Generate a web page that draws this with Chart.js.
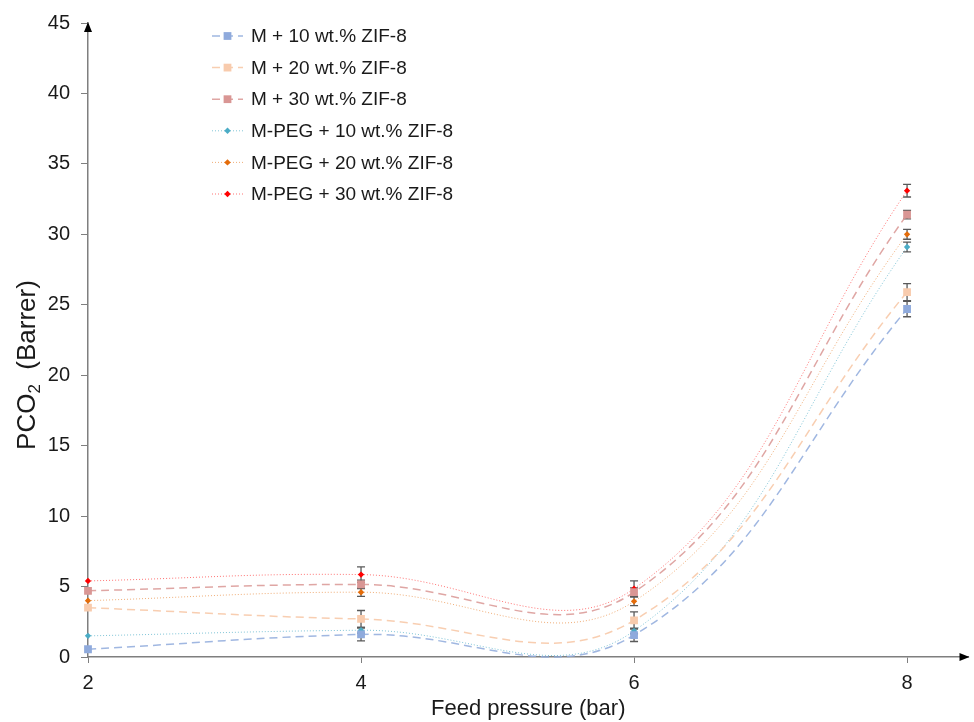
<!DOCTYPE html>
<html>
<head>
<meta charset="utf-8">
<script src="https://cdn.jsdelivr.net/npm/chart.js@4.4.1/dist/chart.umd.min.js"></script>
<style>
  html, body { margin: 0; padding: 0; background: #fff; }
  canvas { display: block; }
</style>
</head>
<body>
<canvas id="chart" width="974" height="722"></canvas>
<script>
// feed pressure (bar)
const pressures = [2, 4, 6, 8];
const xTicks = [2, 4, 6, 8];
const yTicks = [0, 5, 10, 15, 20, 25, 30, 35, 40, 45];

const seriesNames = [
  "M + 10 wt.% ZIF-8",
  "M + 20 wt.% ZIF-8",
  "M + 30 wt.% ZIF-8",
  "M-PEG + 10 wt.% ZIF-8",
  "M-PEG + 20 wt.% ZIF-8",
  "M-PEG + 30 wt.% ZIF-8"
];

// PCO2 (Barrer)
const m10   = [0.55, 1.6, 1.55, 24.7];
const m20   = [3.5, 2.7, 2.6, 25.9];
const m30   = [4.7, 5.15, 4.6, 31.4];
const peg10 = [1.5, 1.9, 1.85, 29.1];
const peg20 = [4.0, 4.6, 3.95, 30.0];
const peg30 = [5.4, 5.85, 4.85, 33.1];

// error bar half-lengths
const m10Err   = [0, 0.45, 0.45, 0.55];
const m20Err   = [0, 0.6, 0.6, 0.6];
const m30Err   = [0, 0.3, 0.3, 0.3];
const peg10Err = [0, 0.2, 0.2, 0.35];
const peg20Err = [0, 0.3, 0.3, 0.35];
const peg30Err = [0, 0.55, 0.55, 0.45];

const values = [m10, m20, m30, peg10, peg20, peg30];
const errors = [m10Err, m20Err, m30Err, peg10Err, peg20Err, peg30Err];
const markerColors = ["#8faadc", "#f8cbad", "#d99694", "#4bacc6", "#e46c0a", "#ff0000"];
const lineColors = ["rgba(143,170,220,0.85)", "rgba(248,203,173,0.95)", "rgba(217,150,148,0.85)",
                    "rgba(75,172,198,0.7)", "rgba(228,108,10,0.55)", "rgba(255,0,0,0.55)"];

const FONT = "'Liberation Sans', Arial, sans-serif";
const AXIS = "#7f7f7f";
const TEXT = "#1a1a1a";

const datasets = seriesNames.map((name, i) => {
  const isM = i < 3;
  return {
    label: name,
    data: pressures.map((p, k) => ({ x: p, y: values[i][k] })),
    borderColor: lineColors[i],
    backgroundColor: markerColors[i],
    borderWidth: isM ? 1.5 : 1,
    borderDash: isM ? [8, 5] : [1, 2],
    pointStyle: isM ? "rect" : "rectRot",
    pointRadius: isM ? 5.5 : 3.2,
    pointBorderWidth: 0,
    pointBackgroundColor: markerColors[i],
    pointBorderColor: markerColors[i],
    tension: 0.4,
    fill: false,
    clip: { left: 10, right: 10, top: 10, bottom: 1 }
  };
});

const errorBars = {
  id: "errorBars",
  beforeDatasetsDraw(chart) {
    const { ctx, scales: { x, y } } = chart;
    ctx.save();
    ctx.strokeStyle = "#595959";
    ctx.lineWidth = 1.3;
    values.forEach((vals, i) => {
      vals.forEach((v, k) => {
        const e = errors[i][k];
        if (!e) return;
        const px = x.getPixelForValue(pressures[k]);
        const top = y.getPixelForValue(v + e);
        const bot = y.getPixelForValue(v - e);
        ctx.beginPath();
        ctx.moveTo(px, top); ctx.lineTo(px, bot);
        ctx.moveTo(px - 4, top); ctx.lineTo(px + 4, top);
        ctx.moveTo(px - 4, bot); ctx.lineTo(px + 4, bot);
        ctx.stroke();
      });
    });
    ctx.restore();
  }
};

function drawMarker(ctx, style, r, x, y) {
  ctx.beginPath();
  if (style === "rect") {
    const s = r / Math.SQRT2;
    ctx.rect(x - s, y - s, 2 * s, 2 * s);
  } else {
    ctx.moveTo(x, y - r); ctx.lineTo(x + r, y); ctx.lineTo(x, y + r); ctx.lineTo(x - r, y);
    ctx.closePath();
  }
  ctx.fill();
}

const extras = {
  id: "extras",
  afterDraw(chart) {
    const { ctx, chartArea: a } = chart;
    ctx.save();
    // axis arrows
    ctx.fillStyle = "#000";
    ctx.beginPath();
    ctx.moveTo(a.left, a.top - 1); ctx.lineTo(a.left - 4, a.top + 9); ctx.lineTo(a.left + 4, a.top + 9);
    ctx.closePath(); ctx.fill();
    ctx.beginPath();
    ctx.moveTo(a.right + 1, a.bottom); ctx.lineTo(a.right - 9, a.bottom - 4); ctx.lineTo(a.right - 9, a.bottom + 4);
    ctx.closePath(); ctx.fill();

    // legend
    ctx.font = "19px " + FONT;
    ctx.textBaseline = "middle";
    chart.data.datasets.forEach((ds, i) => {
      const yy = 36 + i * 31.6;
      ctx.strokeStyle = ds.borderColor;
      ctx.lineWidth = ds.borderWidth;
      ctx.setLineDash(ds.borderDash);
      ctx.beginPath();
      ctx.moveTo(212, yy); ctx.lineTo(243, yy);
      ctx.stroke();
      ctx.setLineDash([]);
      ctx.fillStyle = ds.backgroundColor;
      drawMarker(ctx, ds.pointStyle, ds.pointRadius, 227.5, yy);
      ctx.fillStyle = TEXT;
      ctx.fillText(ds.label, 251, yy + 1);
    });

    // y title with subscript
    ctx.translate(35, 365);
    ctx.rotate(-Math.PI / 2);
    ctx.fillStyle = TEXT;
    ctx.textBaseline = "alphabetic";
    ctx.textAlign = "left";
    const big = "26px " + FONT, small = "17px " + FONT;
    ctx.font = big;
    const w1 = ctx.measureText("PCO").width;
    ctx.font = small;
    const w2 = ctx.measureText("2").width;
    ctx.font = big;
    const w3 = ctx.measureText("  (Barrer)").width;
    const sx = -(w1 + w2 + w3) / 2;
    ctx.fillText("PCO", sx, 0);
    ctx.font = small;
    ctx.fillText("2", sx + w1, 5);
    ctx.font = big;
    ctx.fillText("  (Barrer)", sx + w1 + w2, 0);
    ctx.restore();
  }
};

new Chart(document.getElementById("chart"), {
  type: "line",
  data: { datasets },
  options: {
    responsive: false,
    animation: false,
    layout: { padding: { left: 0, right: 2, top: 21, bottom: 0 } },
    elements: { line: { capBezierPoints: false } },
    plugins: { legend: { display: false }, tooltip: { enabled: false } },
    scales: {
      x: {
        type: "linear",
        min: 2,
        max: 8.45,
        afterBuildTicks: s => { s.ticks = xTicks.map(v => ({ value: v })); },
        afterFit: s => { s.height = 65; },
        border: { color: AXIS, width: 1.5 },
        grid: { drawOnChartArea: false, drawTicks: true, tickLength: 6, color: AXIS },
        ticks: { color: TEXT, font: { family: FONT, size: 20 }, padding: 8, maxRotation: 0 },
        title: { display: true, text: "Feed pressure (bar)", color: TEXT, font: { family: FONT, size: 22 }, padding: { top: 0, bottom: 0 } }
      },
      y: {
        min: 0,
        max: 45,
        afterBuildTicks: s => { s.ticks = yTicks.map(v => ({ value: v })); },
        afterFit: s => { s.width = 88; },
        border: { color: AXIS, width: 1.5 },
        grid: { drawOnChartArea: false, drawTicks: true, tickLength: 7, color: AXIS },
        ticks: { color: TEXT, font: { family: FONT, size: 20 }, padding: 11 }
      }
    }
  },
  plugins: [errorBars, extras]
});
</script>
</body>
</html>
